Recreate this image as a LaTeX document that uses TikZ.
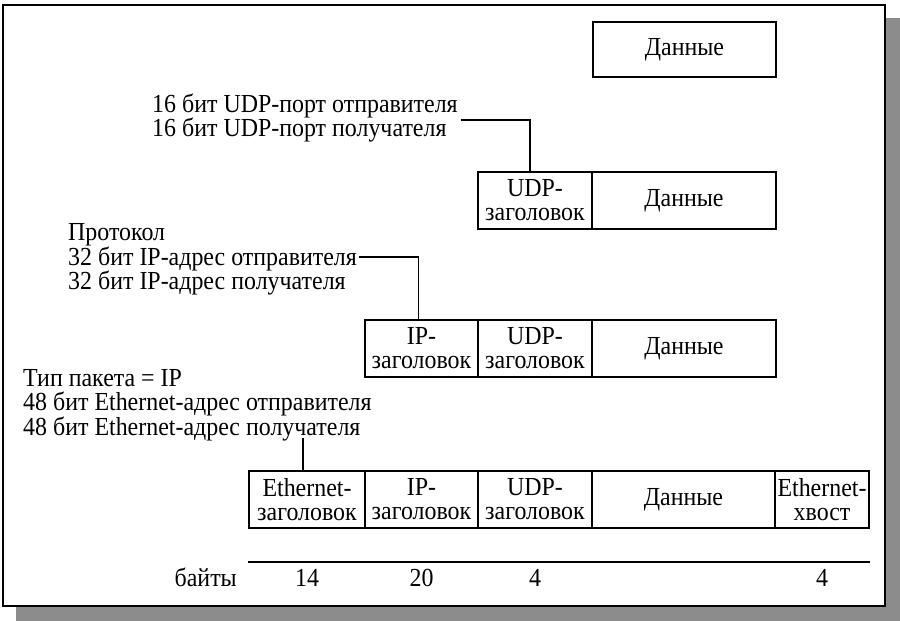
\documentclass[tikz,border=0pt]{standalone}
\usepackage{fontspec}
\setmainfont[FakeStretch=0.92]{Liberation Serif}
\usetikzlibrary{calc}
\begin{document}
\begin{tikzpicture}[x=1pt,y=-1pt,
  txt/.style={inner sep=0pt, anchor=base west, font=\fontsize{26}{24}\selectfont},
  cell/.style={draw, line width=1.5pt, inner sep=0pt, minimum height=57pt,
    align=center, font=\fontsize{26}{24}\selectfont},
  lead/.style={line width=1.4pt},
  num/.style={inner sep=0pt, anchor=base, font=\fontsize{26}{24}\selectfont}]
\useasboundingbox (0,0) rectangle (900,621);
% shadow and outer frame
\fill[black!45] (16,18) rectangle (900,621);
\filldraw[fill=white, line width=1.6pt] (3,5) rectangle (885,606);

% application data
\node[cell, minimum width=183pt, minimum height=55pt] (d1) at (684.5,49.5) {Данные};

% UDP datagram
\node[cell, minimum width=114pt] (u2) at (535,200.5) {UDP-\\заголовок};
\node[cell, minimum width=184pt] (d2) at (684,200.5) {Данные};
\node[txt] (udpa) at (152,112) {16 бит UDP-порт отправителя};
\node[txt] (udpb) at (152,136) {16 бит UDP-порт получателя};
\coordinate (udpk) at ($(udpa.base east)+(3,8)$);
\draw[lead] (udpk) -| ([xshift=-5pt]u2.north);

% IP datagram
\node[cell, minimum width=113pt] (i3) at (421.5,348.5) {IP-\\заголовок};
\node[cell, minimum width=114pt] (u3) at (535,348.5) {UDP-\\заголовок};
\node[cell, minimum width=184pt] (d3) at (684,348.5) {Данные};
\node[txt] (ipa) at (68,240.5) {Протокол};
\node[txt] (ipb) at (68,265) {32 бит IP-адрес отправителя};
\node[txt] (ipc) at (68,289.5) {32 бит IP-адрес получателя};
\coordinate (ipk) at ($(ipb.base east)+(2,-8)$);
\draw[lead] (ipk) -| ([xshift=-3pt]i3.north);

% Ethernet frame
\node[cell, minimum width=116pt] (e4) at (307,499.5) {Ethernet-\\заголовок};
\node[cell, minimum width=113pt] (i4) at (421.5,499.5) {IP-\\заголовок};
\node[cell, minimum width=114pt] (u4) at (535,499.5) {UDP-\\заголовок};
\node[cell, minimum width=183pt] (d4) at (683.5,499.5) {Данные};
\node[cell, minimum width=94pt] (t4) at (822,499.5) {Ethernet-\\хвост};
\node[txt] (etha) at (23,386) {Тип пакета = IP};
\node[txt] (ethb) at (23,410.5) {48 бит Ethernet-адрес отправителя};
\node[txt] (ethc) at (23,435) {48 бит Ethernet-адрес получателя};
\draw[lead] ([xshift=-4pt]e4.north) -- ([xshift=-4pt,yshift=3pt]e4.north |- ethc.south);

% byte counts
\coordinate (ls) at (e4.west |- 0,562);
\coordinate (le) at (t4.east |- 0,562);
\draw[line width=1.5pt] (ls) -- (le);
\node[txt, anchor=base east] (bytes) at (237,586) {байты};
\node[num] (n1) at (e4.center |- 0,586) {14};
\node[num] (n2) at (i4.center |- 0,586) {20};
\node[num] (n3) at (u4.center |- 0,586) {4};
\node[num] (n4) at (t4.center |- 0,586) {4};
\end{tikzpicture}
\end{document}
